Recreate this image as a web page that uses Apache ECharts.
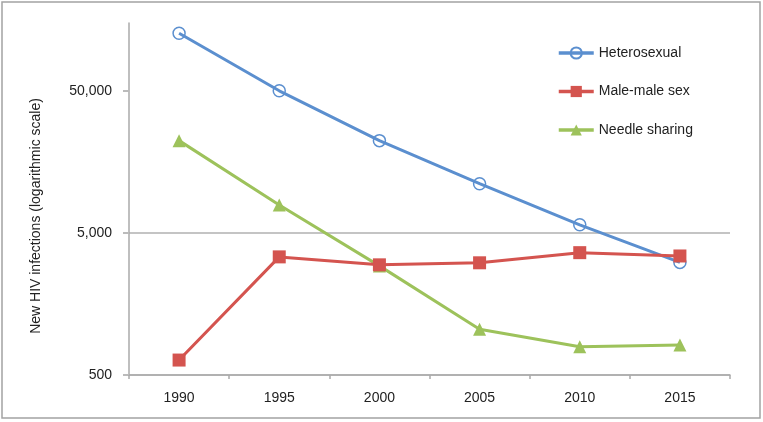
<!DOCTYPE html>
<html>
<head>
<meta charset="utf-8">
<script src="https://cdn.jsdelivr.net/npm/echarts@6/dist/echarts.min.js"></script>
<style>
html,body{margin:0;padding:0;background:#fff;}
#c{width:763px;height:422px;}
</style>
</head>
<body>
<div id="c"></div>
<script>
const years = ['1990', '1995', '2000', '2005', '2010', '2015'];
const heterosexual = [127000, 50000, 22300, 11100, 5700, 3100];
const maleMaleSex = [637, 3390, 2980, 3080, 3630, 3440];
const needleSharing = [22300, 7860, 2930, 1050, 790, 812];
const yTickValues = [500, 5000, 50000];
const yMin = 500, yMax = 150000;

const fontFamily = 'Liberation Sans, Arial, Helvetica, sans-serif';
const blue = '#5B8FCF', red = '#D4544F', green = '#9DC25B';

const logTicks = yTickValues.map(v => Math.log10(v));

const chart = echarts.init(document.getElementById('c'));
chart.setOption({
  animation: false,
  backgroundColor: '#fff',
  textStyle: { fontFamily: fontFamily },
  graphic: [{
    type: 'rect', silent: true, z: 0,
    shape: { x: 2, y: 2, width: 758, height: 416 },
    style: { fill: 'none', stroke: '#A3A3A3', lineWidth: 1.5 }
  }],
  grid: { left: 129, right: 33, top: 23, bottom: 47 },
  legend: {
    orient: 'vertical',
    left: 525, top: 36,
    padding: [10, 12, 10, 32],
    backgroundColor: '#fff',
    itemWidth: 35, itemHeight: 14, itemGap: 24.5,
    lineStyle: { width: 3.5 },
    textStyle: { fontSize: 14, color: '#222', fontFamily: fontFamily },
    data: ['Heterosexual', 'Male-male sex', 'Needle sharing']
  },
  xAxis: {
    type: 'category',
    data: years,
    boundaryGap: true,
    axisLine: { lineStyle: { color: '#AAAAAA', width: 1.5 } },
    axisTick: { show: true, length: 4, lineStyle: { color: '#AAAAAA', width: 1.5 } },
    axisLabel: { fontSize: 14, color: '#222', margin: 16, fontFamily: fontFamily },
    splitLine: { show: false }
  },
  yAxis: [{
    type: 'log',
    logBase: 10,
    min: yMin, max: yMax,
    show: false
  }, {
    type: 'value',
    min: Math.log10(yMin), max: Math.log10(yMax),
    interval: 1,
    position: 'left',
    name: 'New HIV infections (logarithmic scale)',
    nameLocation: 'middle',
    nameRotate: 90,
    nameGap: 86,
    nameTextStyle: { fontSize: 14, color: '#222', padding: [0, 34, 0, 0], fontFamily: fontFamily },
    axisLine: { show: true, lineStyle: { color: '#AAAAAA', width: 1.5 } },
    axisTick: { show: true, length: 6, customValues: logTicks, lineStyle: { color: '#BBBBBB', width: 2 } },
    axisLabel: {
      customValues: logTicks,
      fontSize: 14, color: '#222', margin: 17, fontFamily: fontFamily,
      formatter: v => Math.round(Math.pow(10, v)).toLocaleString('en-US')
    },
    splitLine: { show: true, showMaxLine: false, lineStyle: { color: '#C4C4C4', width: 2 } }
  }],
  series: [{
    name: 'Heterosexual',
    type: 'line',
    yAxisIndex: 0,
    data: heterosexual,
    symbol: 'circle',
    symbolSize: 12,
    lineStyle: { color: blue, width: 3 },
    itemStyle: { color: 'rgba(255,255,255,0)', borderColor: blue, borderWidth: 1.5 },
    z: 3
  }, {
    name: 'Male-male sex',
    type: 'line',
    yAxisIndex: 0,
    data: maleMaleSex,
    symbol: 'rect',
    symbolSize: 13,
    lineStyle: { color: red, width: 3 },
    itemStyle: { color: red },
    z: 4
  }, {
    name: 'Needle sharing',
    type: 'line',
    yAxisIndex: 0,
    data: needleSharing,
    symbol: 'triangle',
    symbolSize: 13,
    lineStyle: { color: green, width: 3 },
    itemStyle: { color: green },
    z: 2
  }]
});
</script>
</body>
</html>
